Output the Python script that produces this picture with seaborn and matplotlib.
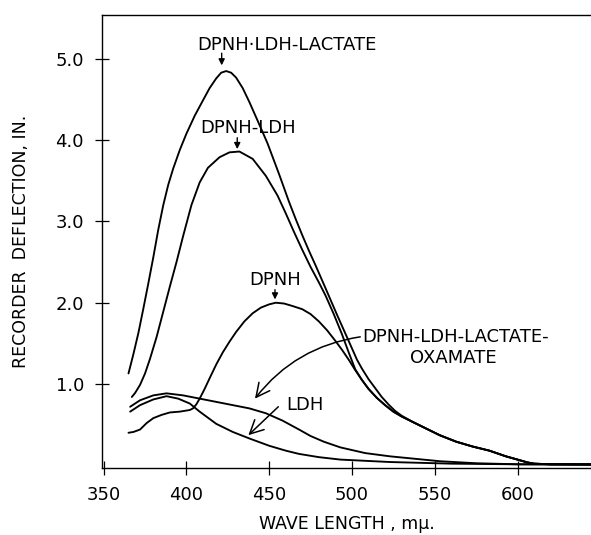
import matplotlib
matplotlib.use("Agg")
import matplotlib.pyplot as plt
import pandas as pd
import numpy as np
import seaborn as sns

# curves (wave length in m-mu, deflection in inches)
tail_wl = [537, 543, 553, 563, 573, 583, 593, 600, 606, 610, 620, 645]
tail_val = [0.53, 0.47, 0.37, 0.29, 0.23, 0.18, 0.11, 0.07, 0.035, 0.02, 0.012, 0.01]

lact_wl = [365, 368, 371, 374, 377, 380, 383, 386, 389, 392, 396, 400, 405, 410, 414, 418, 421, 424,
           427, 430, 434, 438, 443, 449, 456, 462, 466, 470, 474, 478, 484, 491, 498, 503, 506,
           510, 514, 518, 522, 526, 530] + tail_wl
lact_val = [1.13, 1.37, 1.63, 1.93, 2.24, 2.56, 2.90, 3.20, 3.45, 3.65, 3.88, 4.08, 4.30, 4.49, 4.64, 4.76, 4.83, 4.85,
            4.83, 4.77, 4.64, 4.47, 4.24, 3.96, 3.58, 3.24, 3.03, 2.83, 2.64, 2.46, 2.18, 1.85, 1.53, 1.30, 1.19,
            1.06, 0.95, 0.84, 0.75, 0.67, 0.61] + tail_val

ldh_dpnh_wl = [367, 369, 372, 375, 378, 382, 386, 390, 394, 398, 403, 408, 413, 420, 426, 432, 440, 448,
               455, 460, 465, 470, 475, 480, 484, 489, 494, 498, 502, 506, 510, 515, 520, 525, 530] + tail_wl
ldh_dpnh_val = [0.84, 0.89, 0.99, 1.13, 1.31, 1.58, 1.89, 2.20, 2.50, 2.82, 3.20, 3.48, 3.66, 3.79, 3.85, 3.86, 3.77,
                3.56, 3.32, 3.10, 2.87, 2.65, 2.44, 2.25, 2.09, 1.86, 1.61, 1.39, 1.18, 1.05, 0.94, 0.83, 0.74, 0.66,
                0.60] + tail_val

dpnh_wl = [365, 368, 372, 376, 380, 385, 390, 396, 402, 404, 406, 408, 411, 414, 418, 422, 426, 430,
           435, 440, 445, 450, 454, 459, 464, 470, 475, 480, 485, 490, 494, 498, 502, 506, 510, 515,
           520, 525, 530] + tail_wl
dpnh_val = [0.40, 0.41, 0.44, 0.52, 0.58, 0.62, 0.65, 0.66, 0.68, 0.70, 0.75, 0.82, 0.94, 1.07, 1.24, 1.39, 1.52, 1.64,
            1.77, 1.87, 1.94, 1.98, 2.00, 1.99, 1.96, 1.92, 1.86, 1.77, 1.66, 1.53, 1.42, 1.30, 1.17, 1.05, 0.94, 0.83,
            0.74, 0.66, 0.60] + tail_val

oxa_wl = [366, 372, 380, 388, 398, 408, 418, 428, 438, 448, 458, 468, 475, 483, 493, 508, 523,
          553, 575, 600, 645]
oxa_val = [0.72, 0.80, 0.86, 0.885, 0.86, 0.82, 0.78, 0.74, 0.70, 0.64, 0.55, 0.44, 0.36, 0.29, 0.22, 0.15, 0.11,
           0.05, 0.025, 0.012, 0.01]

ldh_wl = [366, 372, 380, 388, 395, 402, 408, 418, 428, 438, 450, 460, 468, 480, 493, 523, 560, 600, 645]
ldh_val = [0.66, 0.74, 0.81, 0.85, 0.82, 0.76, 0.66, 0.51, 0.41, 0.33, 0.24, 0.18, 0.14, 0.10, 0.07, 0.04, 0.02,
           0.012, 0.01]

x_ticks = [350, 400, 450, 500, 550, 600]
y_ticks = [1.0, 2.0, 3.0, 4.0, 5.0]

sns.set_style("ticks")
plt.rcParams["font.family"] = ["DejaVu Sans"]
plt.rcParams["text.color"] = "black"
plt.rcParams["axes.labelcolor"] = "black"

fig = plt.figure(figsize=(5.91, 5.35), dpi=100)
ax = fig.add_axes([0.1726, 0.1247, 0.8274, 0.8473])

for wl, val in [(lact_wl, lact_val), (ldh_dpnh_wl, ldh_dpnh_val), (dpnh_wl, dpnh_val),
                (oxa_wl, oxa_val), (ldh_wl, ldh_val)]:
    sns.lineplot(x=wl, y=val, ax=ax, color="black", lw=1.35, sort=False)

ax.set_xlim(349, 644.4)
ax.set_ylim(-0.037, 5.54)
ax.set_xticks(x_ticks)
ax.set_xticklabels([str(t) for t in x_ticks])
ax.set_yticks(y_ticks)
ax.set_yticklabels([f"{t:.1f}" for t in y_ticks])
ax.tick_params(direction="inout", length=10, width=0.9, colors="black", labelsize=13, pad=8)
for s in ["left", "top", "bottom"]:
    ax.spines[s].set_color("black")
    ax.spines[s].set_linewidth(1.0)
ax.spines["right"].set_visible(False)

ax.set_xlabel("WAVE LENGTH , m\u03bc.", fontsize=12.5, labelpad=8)
ax.set_ylabel("RECORDER  DEFLECTION, IN.", fontsize=12.5, labelpad=18)

fs = 13
small = dict(arrowstyle="-|>", color="black", lw=1.0, mutation_scale=9, shrinkA=0, shrinkB=0)
open_arr = dict(arrowstyle="->,head_length=0.7,head_width=0.35", color="black", lw=1.1,
                mutation_scale=14, shrinkA=0, shrinkB=0)

ax.text(460.8, 5.17, "DPNH\u00b7LDH-LACTATE", fontsize=fs, ha="center", va="center")
ax.annotate("", xy=(421.3, 4.92), xytext=(421.3, 5.07), arrowprops=small)

ax.text(437.3, 4.15, "DPNH-LDH", fontsize=fs, ha="center", va="center")
ax.annotate("", xy=(430.7, 3.89), xytext=(430.7, 4.03), arrowprops=small)

ax.text(453.5, 2.28, "DPNH", fontsize=fs, ha="center", va="center")
ax.annotate("", xy=(453.5, 2.04), xytext=(453.5, 2.16), arrowprops=small)

ax.text(506.5, 1.58, "DPNH-LDH-LACTATE-", fontsize=fs, ha="left", va="center")
ax.text(561.2, 1.32, "OXAMATE", fontsize=fs, ha="center", va="center")
ax.annotate("", xy=(441.4, 0.82), xytext=(505.0, 1.58),
            arrowprops=dict(open_arr, connectionstyle="arc3,rad=0.2"))

ax.text(460.6, 0.74, "LDH", fontsize=fs, ha="left", va="center")
ax.annotate("", xy=(437.4, 0.37), xytext=(455.5, 0.72), arrowprops=open_arr)

fig.savefig("out.png", dpi=100)
